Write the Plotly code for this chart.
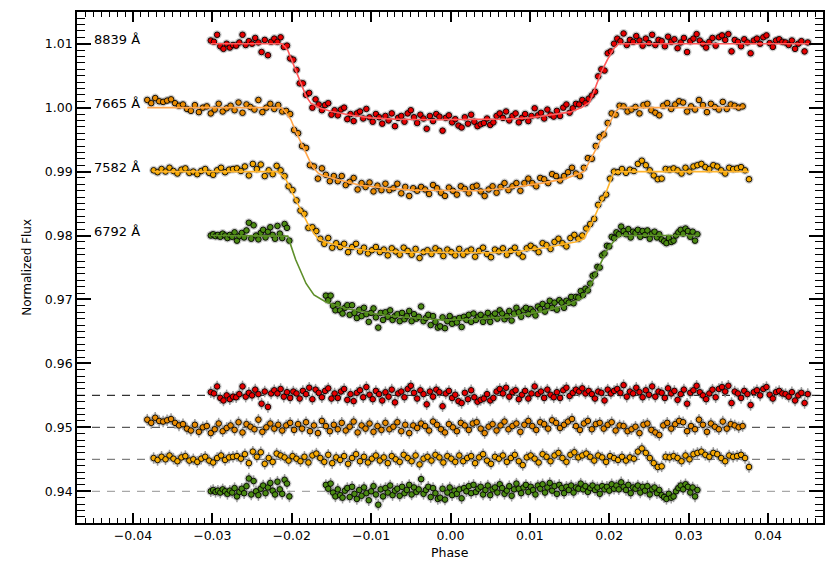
import plotly.graph_objects as go

# ---------------------------------------------------------------------------
# Spectroscopic transit light curves (normalized flux vs. orbital phase)
# plus residuals after subtracting the best-fit transit model.
# ---------------------------------------------------------------------------

# ---- 8839 A channel --------------------------------------------------------
PHASE_8839 = [
    -0.0302, -0.0298, -0.0294, -0.0290, -0.0286, -0.0282, -0.0278, -0.0274, -0.0270, -0.0266,
    -0.0262, -0.0258, -0.0254, -0.0250, -0.0246, -0.0242, -0.0238, -0.0234, -0.0230, -0.0226,
    -0.0222, -0.0218, -0.0214, -0.0210, -0.0206, -0.0202, -0.0198, -0.0194, -0.0190, -0.0186,
    -0.0182, -0.0178, -0.0174, -0.0170, -0.0166, -0.0162, -0.0158, -0.0154, -0.0150, -0.0146,
    -0.0142, -0.0138, -0.0134, -0.0130, -0.0126, -0.0122, -0.0118, -0.0114, -0.0110, -0.0106,
    -0.0102, -0.0098, -0.0094, -0.0090, -0.0086, -0.0082, -0.0078, -0.0074, -0.0070, -0.0066,
    -0.0062, -0.0058, -0.0054, -0.0050, -0.0046, -0.0042, -0.0038, -0.0034, -0.0030, -0.0026,
    -0.0022, -0.0018, -0.0014, -0.0010, -0.0006, -0.0002, 0.0002, 0.0006, 0.0010, 0.0014,
    0.0018, 0.0022, 0.0026, 0.0030, 0.0034, 0.0038, 0.0042, 0.0046, 0.0050, 0.0054,
    0.0058, 0.0062, 0.0066, 0.0070, 0.0074, 0.0078, 0.0082, 0.0086, 0.0090, 0.0094,
    0.0098, 0.0102, 0.0106, 0.0110, 0.0114, 0.0118, 0.0122, 0.0126, 0.0130, 0.0134,
    0.0138, 0.0142, 0.0146, 0.0150, 0.0154, 0.0158, 0.0162, 0.0166, 0.0170, 0.0174,
    0.0178, 0.0182, 0.0186, 0.0190, 0.0194, 0.0198, 0.0202, 0.0206, 0.0210, 0.0214,
    0.0218, 0.0222, 0.0226, 0.0230, 0.0234, 0.0238, 0.0242, 0.0246, 0.0250, 0.0254,
    0.0258, 0.0262, 0.0266, 0.0270, 0.0274, 0.0278, 0.0282, 0.0286, 0.0290, 0.0294,
    0.0298, 0.0302, 0.0306, 0.0310, 0.0314, 0.0318, 0.0322, 0.0326, 0.0330, 0.0334,
    0.0338, 0.0342, 0.0346, 0.0350, 0.0354, 0.0358, 0.0362, 0.0366, 0.0370, 0.0374,
    0.0378, 0.0382, 0.0386, 0.0390, 0.0394, 0.0398, 0.0402, 0.0406, 0.0410, 0.0414,
    0.0418, 0.0422, 0.0426, 0.0430, 0.0434, 0.0438, 0.0442, 0.0446, 0.0450,
]
FLUX_8839 = [
    1.0105, 1.0103, 1.0114, 1.0096, 1.0092, 1.0100, 1.0094, 1.0098, 1.0097, 1.0102,
    1.0114, 1.0098, 1.0104, 1.0100, 1.0109, 1.0102, 1.0087, 1.0106, 1.0082, 1.0103,
    1.0108, 1.0103, 1.0110, 1.0095, 1.0097, 1.0077, 1.0075, 1.0059, 1.0038, 1.0038,
    1.0020, 1.0023, 1.0000, 1.0013, 1.0005, 0.9996, 1.0004, 1.0007, 0.9989, 0.9996,
    0.9988, 0.9997, 1.0000, 0.9982, 0.9990, 0.9979, 0.9991, 0.9994, 0.9983, 0.9998,
    0.9985, 0.9978, 0.9990, 0.9985, 0.9975, 0.9987, 0.9980, 0.9991, 0.9971, 0.9984,
    0.9987, 0.9978, 0.9991, 0.9996, 0.9985, 0.9976, 0.9989, 0.9983, 0.9967, 0.9987,
    0.9979, 0.9990, 0.9986, 0.9964, 0.9984, 0.9988, 0.9977, 0.9982, 0.9972, 0.9969,
    0.9985, 0.9975, 0.9989, 0.9978, 0.9971, 0.9974, 0.9976, 0.9983, 0.9973, 0.9977,
    0.9987, 0.9991, 0.9984, 0.9994, 0.9980, 0.9987, 0.9991, 0.9977, 0.9984, 0.9990,
    0.9979, 0.9987, 0.9999, 0.9988, 0.9992, 0.9983, 0.9997, 0.9989, 0.9986, 0.9995,
    0.9987, 1.0000, 1.0005, 0.9992, 0.9999, 1.0006, 1.0005, 1.0012, 1.0007, 1.0014,
    1.0019, 1.0025, 1.0049, 1.0060, 1.0058, 1.0085, 1.0088, 1.0100, 1.0108, 1.0104,
    1.0116, 1.0098, 1.0106, 1.0103, 1.0112, 1.0105, 1.0097, 1.0108, 1.0101, 1.0114,
    1.0098, 1.0106, 1.0104, 1.0096, 1.0111, 1.0103, 1.0107, 1.0093, 1.0102, 1.0109,
    1.0087, 1.0104, 1.0108, 1.0115, 1.0105, 1.0100, 1.0094, 1.0103, 1.0109, 1.0097,
    1.0110, 1.0113, 1.0106, 1.0115, 1.0088, 1.0106, 1.0103, 1.0096, 1.0107, 1.0102,
    1.0085, 1.0105, 1.0108, 1.0100, 1.0110, 1.0113, 1.0101, 1.0095, 1.0105, 1.0107,
    1.0103, 1.0102, 1.0098, 1.0105, 1.0092, 1.0100, 1.0104, 1.0088, 1.0102,
]
RESID_8839_PPM = [
    500, 300, 1400, -400, -800, 0, -600, -200, -300, 200,
    1400, -200, 400, 0, 900, 200, -1300, 600, -1800, 300,
    800, 300, 1000, -200, 500, -400, 600, 300, -500, 700,
    200, 1200, -600, 900, 400, -300, 700, 1100, -500, 300,
    -400, 600, 1000, -700, 200, -900, 400, 800, -300, 1300,
    100, -600, 700, 200, -800, 500, -200, 900, -1100, 300,
    600, -300, 1000, 1500, 400, -500, 800, 200, -1400, 600,
    -200, 900, 500, -1700, 300, 700, -400, 100, -900, -1200,
    400, -600, 800, -300, -1000, -700, -500, 200, -800, -400,
    600, 1000, 300, 1200, -200, 500, 800, -600, 100, 700,
    -500, 300, 1400, 200, 600, -400, 900, 100, -300, 500,
    -400, 800, 1200, -100, 400, 900, 600, 1100, 300, 700,
    200, -500, 600, 400, -800, 900, 300, 700, 1000, 400,
    1600, -200, 600, 300, 1200, 500, -300, 800, 100, 1400,
    -200, 600, 400, -400, 1100, 300, 700, -700, 200, 900,
    -1300, 400, 800, 1500, 500, 0, -600, 300, 900, -300,
    1000, 1300, 600, 1500, -1200, 600, 300, -400, 700, 200,
    -1500, 500, 800, 0, 1000, 1300, 100, -500, 500, 700,
    300, 200, -200, 500, -800, 0, 400, -1200, 200,
]
MODEL_8839_PHASE = [
    -0.0302, -0.0212, -0.0205, -0.0197, -0.0189, -0.0182, -0.0176, -0.0165, -0.0150,
    -0.0125, -0.0100, -0.0070, -0.0030, 0.0030, 0.0070, 0.0100, 0.0125, 0.0150,
    0.0165, 0.0175, 0.0182, 0.0190, 0.0198, 0.0206, 0.0212, 0.0452,
]
MODEL_8839_FLUX = [
    1.0100, 1.0100, 1.0090, 1.0066, 1.0040, 1.0018, 1.0007, 1.0000, 0.9994,
    0.9988, 0.9984, 0.9982, 0.9981, 0.9981, 0.9982, 0.9984, 0.9988, 0.9993,
    1.0000, 1.0008, 1.0030, 1.0056, 1.0076, 1.0093, 1.0100, 1.0100,
]

# ---- 7665 A channel --------------------------------------------------------
PHASE_7665 = [
    -0.0382, -0.0377, -0.0372, -0.0367, -0.0362, -0.0357, -0.0352, -0.0347, -0.0342, -0.0337,
    -0.0332, -0.0327, -0.0322, -0.0317, -0.0312, -0.0307, -0.0302, -0.0297, -0.0292, -0.0287,
    -0.0282, -0.0277, -0.0272, -0.0267, -0.0262, -0.0257, -0.0252, -0.0247, -0.0242, -0.0237,
    -0.0232, -0.0227, -0.0222, -0.0217, -0.0212, -0.0207, -0.0202, -0.0197, -0.0192, -0.0187,
    -0.0182, -0.0177, -0.0172, -0.0167, -0.0162, -0.0157, -0.0152, -0.0147, -0.0142, -0.0137,
    -0.0132, -0.0127, -0.0122, -0.0117, -0.0112, -0.0107, -0.0102, -0.0097, -0.0092, -0.0087,
    -0.0082, -0.0077, -0.0072, -0.0067, -0.0062, -0.0057, -0.0052, -0.0047, -0.0042, -0.0037,
    -0.0032, -0.0027, -0.0022, -0.0017, -0.0012, -0.0007, -0.0002, 0.0003, 0.0008, 0.0013,
    0.0018, 0.0023, 0.0028, 0.0033, 0.0038, 0.0043, 0.0048, 0.0053, 0.0058, 0.0063,
    0.0068, 0.0073, 0.0078, 0.0083, 0.0088, 0.0093, 0.0098, 0.0103, 0.0108, 0.0113,
    0.0118, 0.0123, 0.0128, 0.0133, 0.0138, 0.0143, 0.0148, 0.0153, 0.0158, 0.0163,
    0.0168, 0.0173, 0.0178, 0.0183, 0.0188, 0.0193, 0.0198, 0.0203, 0.0208, 0.0213,
    0.0218, 0.0223, 0.0228, 0.0233, 0.0238, 0.0243, 0.0248, 0.0253, 0.0258, 0.0263,
    0.0268, 0.0273, 0.0278, 0.0283, 0.0288, 0.0293, 0.0298, 0.0303, 0.0308, 0.0313,
    0.0318, 0.0323, 0.0328, 0.0333, 0.0338, 0.0343, 0.0348, 0.0353, 0.0358, 0.0363,
    0.0368,
]
FLUX_7665 = [
    1.0012, 1.0007, 1.0015, 1.0010, 1.0009, 1.0011, 1.0013, 1.0007, 1.0003, 1.0005,
    0.9998, 0.9995, 1.0004, 0.9993, 1.0000, 1.0002, 0.9991, 0.9997, 1.0006, 0.9994,
    0.9999, 1.0003, 0.9996, 1.0008, 0.9992, 1.0005, 1.0001, 0.9997, 1.0012, 0.9993,
    1.0000, 1.0006, 0.9998, 1.0004, 0.9994, 0.9995, 0.9990, 0.9965, 0.9960, 0.9940,
    0.9937, 0.9910, 0.9908, 0.9889, 0.9905, 0.9895, 0.9885, 0.9893, 0.9885, 0.9893,
    0.9879, 0.9884, 0.9890, 0.9872, 0.9882, 0.9876, 0.9883, 0.9869, 0.9878, 0.9871,
    0.9881, 0.9871, 0.9874, 0.9881, 0.9866, 0.9876, 0.9862, 0.9874, 0.9870, 0.9876,
    0.9872, 0.9865, 0.9879, 0.9874, 0.9867, 0.9862, 0.9875, 0.9870, 0.9864, 0.9877,
    0.9873, 0.9866, 0.9876, 0.9878, 0.9869, 0.9862, 0.9872, 0.9877, 0.9867, 0.9876,
    0.9882, 0.9871, 0.9877, 0.9882, 0.9870, 0.9882, 0.9889, 0.9882, 0.9877, 0.9890,
    0.9888, 0.9882, 0.9896, 0.9893, 0.9886, 0.9893, 0.9899, 0.9906, 0.9897, 0.9893,
    0.9906, 0.9921, 0.9920, 0.9940, 0.9954, 0.9958, 0.9976, 0.9991, 0.9989, 1.0003,
    1.0002, 0.9994, 0.9997, 1.0001, 0.9991, 1.0004, 1.0006, 0.9996, 0.9992, 0.9988,
    1.0003, 1.0007, 0.9998, 1.0005, 1.0010, 1.0008, 0.9994, 1.0002, 0.9997, 1.0012,
    1.0004, 0.9993, 1.0006, 1.0001, 0.9997, 1.0009, 0.9998, 1.0005, 1.0003, 1.0000,
    1.0002,
]
RESID_7665_PPM = [
    1200, 700, 1500, 1000, 900, 1100, 1300, 700, 300, 500,
    -200, -500, 400, -700, 0, 200, -900, -300, 600, -600,
    -100, 300, -400, 800, -800, 500, 100, -300, 1200, -700,
    0, 600, -200, 400, -500, 300, 700, -400, 500, -200,
    800, -600, 300, -900, 1000, 200, -600, 400, -300, 700,
    -500, 100, 900, -800, 300, -200, 600, -700, 200, -400,
    700, -300, 100, 800, -600, 400, -900, 300, -100, 600,
    200, -500, 900, 400, -300, -800, 500, 0, -600, 700,
    300, -400, 600, 800, -200, -900, 100, 500, -500, 300,
    900, -300, 200, 600, -700, 400, 1000, 200, -400, 800,
    500, -200, 1100, 700, -100, 400, 900, 1300, 200, -400,
    600, 1000, -300, 500, 700, -200, 400, 800, -500, 300,
    200, -600, -300, 100, -900, 400, 600, -400, -800, -1200,
    300, 700, -200, 500, 1000, 800, -600, 200, -300, 1200,
    400, -700, 600, 100, -300, 900, -200, 500, 300, 0,
    200,
]
MODEL_7665_PHASE = [
    -0.0382, -0.0213, -0.0207, -0.0201, -0.0195, -0.0190, -0.0182, -0.0174, -0.0167,
    -0.0161, -0.0150, -0.0140, -0.0115, -0.0081, -0.0046, 0.0032, 0.0073, 0.0115,
    0.0145, 0.0168, 0.0176, 0.0187, 0.0197, 0.0208, 0.0213, 0.0367,
]
MODEL_7665_FLUX = [
    1.0000, 1.0000, 0.9992, 0.9981, 0.9963, 0.9949, 0.9929, 0.9908, 0.9898,
    0.9894, 0.9890, 0.9887, 0.9879, 0.9874, 0.9871, 0.9870, 0.9874, 0.9882,
    0.9889, 0.9900, 0.9918, 0.9944, 0.9970, 0.9994, 1.0000, 1.0000,
]

# ---- 7582 A channel --------------------------------------------------------
PHASE_7582 = [
    -0.0374, -0.0369, -0.0364, -0.0359, -0.0354, -0.0349, -0.0344, -0.0339, -0.0334, -0.0329,
    -0.0324, -0.0319, -0.0314, -0.0309, -0.0304, -0.0299, -0.0294, -0.0289, -0.0284, -0.0279,
    -0.0274, -0.0269, -0.0264, -0.0259, -0.0254, -0.0249, -0.0244, -0.0239, -0.0234, -0.0229,
    -0.0224, -0.0219, -0.0214, -0.0209, -0.0204, -0.0199, -0.0194, -0.0189, -0.0184, -0.0179,
    -0.0174, -0.0169, -0.0164, -0.0159, -0.0154, -0.0149, -0.0144, -0.0139, -0.0134, -0.0129,
    -0.0124, -0.0119, -0.0114, -0.0109, -0.0104, -0.0099, -0.0094, -0.0089, -0.0084, -0.0079,
    -0.0074, -0.0069, -0.0064, -0.0059, -0.0054, -0.0049, -0.0044, -0.0039, -0.0034, -0.0029,
    -0.0024, -0.0019, -0.0014, -0.0009, -0.0004, 0.0001, 0.0006, 0.0011, 0.0016, 0.0021,
    0.0026, 0.0031, 0.0036, 0.0041, 0.0046, 0.0051, 0.0056, 0.0061, 0.0066, 0.0071,
    0.0076, 0.0081, 0.0086, 0.0091, 0.0096, 0.0101, 0.0106, 0.0111, 0.0116, 0.0121,
    0.0126, 0.0131, 0.0136, 0.0141, 0.0146, 0.0151, 0.0156, 0.0161, 0.0166, 0.0171,
    0.0176, 0.0181, 0.0186, 0.0191, 0.0196, 0.0201, 0.0206, 0.0211, 0.0216, 0.0221,
    0.0226, 0.0231, 0.0236, 0.0241, 0.0246, 0.0251, 0.0256, 0.0261, 0.0266, 0.0271,
    0.0276, 0.0281, 0.0286, 0.0291, 0.0296, 0.0301, 0.0306, 0.0311, 0.0316, 0.0321,
    0.0326, 0.0331, 0.0336, 0.0341, 0.0346, 0.0351, 0.0356, 0.0361, 0.0366, 0.0371,
    0.0376,
]
FLUX_7582 = [
    0.9902, 0.9899, 0.9904, 0.9900, 0.9906, 0.9901, 0.9897, 0.9903, 0.9905, 0.9898,
    0.9900, 0.9896, 0.9901, 0.9904, 0.9898, 0.9895, 0.9902, 0.9906, 0.9899, 0.9903,
    0.9904, 0.9905, 0.9901, 0.9908, 0.9894, 0.9912, 0.9904, 0.9911, 0.9893, 0.9902,
    0.9896, 0.9909, 0.9902, 0.9893, 0.9877, 0.9871, 0.9855, 0.9839, 0.9834, 0.9812,
    0.9813, 0.9807, 0.9795, 0.9787, 0.9796, 0.9781, 0.9788, 0.9782, 0.9787, 0.9774,
    0.9782, 0.9787, 0.9775, 0.9781, 0.9772, 0.9777, 0.9782, 0.9774, 0.9778, 0.9769,
    0.9780, 0.9775, 0.9770, 0.9781, 0.9776, 0.9770, 0.9779, 0.9765, 0.9774, 0.9777,
    0.9771, 0.9780, 0.9776, 0.9768, 0.9778, 0.9774, 0.9769, 0.9779, 0.9770, 0.9775,
    0.9778, 0.9767, 0.9776, 0.9781, 0.9771, 0.9766, 0.9778, 0.9775, 0.9780, 0.9770,
    0.9776, 0.9781, 0.9772, 0.9767, 0.9780, 0.9784, 0.9780, 0.9774, 0.9788, 0.9785,
    0.9779, 0.9790, 0.9795, 0.9788, 0.9783, 0.9796, 0.9801, 0.9795, 0.9800, 0.9811,
    0.9818, 0.9826, 0.9848, 0.9858, 0.9864, 0.9889, 0.9900, 0.9899, 0.9904, 0.9898,
    0.9903, 0.9901, 0.9912, 0.9917, 0.9910, 0.9902, 0.9894, 0.9888, 0.9889, 0.9904,
    0.9903, 0.9905, 0.9902, 0.9897, 0.9906, 0.9900, 0.9908, 0.9910, 0.9912, 0.9907,
    0.9904, 0.9910, 0.9908, 0.9902, 0.9897, 0.9906, 0.9904, 0.9905, 0.9907, 0.9902,
    0.9888,
]
RESID_7582_PPM = [
    200, -100, 400, 0, 600, 100, -300, 300, 500, -200,
    0, -400, 100, 400, -200, -500, 200, 600, -100, 300,
    400, 500, 100, 800, -600, 1200, 400, 1100, -700, 200,
    -400, 900, 600, 300, -200, 500, 100, -300, 400, -500,
    600, 900, 200, -400, 700, -600, 300, -100, 500, -700,
    200, 800, -300, 400, -500, 100, 600, -200, 300, -600,
    500, 0, -400, 700, 200, -300, 600, -800, 100, 400,
    -200, 700, 300, -500, 500, 100, -400, 600, -300, 200,
    500, -600, 300, 800, -200, -700, 400, 100, 600, -400,
    200, 700, -300, -900, 300, 600, 100, -500, 800, 400,
    -300, 600, 1000, 200, -400, 700, 1100, 300, 600, 900,
    400, -200, 600, 300, -400, 500, 200, -100, 400, -200,
    300, 100, 1200, 1700, 1000, 200, -600, -1200, -1100, 400,
    300, 500, 200, -300, 600, 0, 800, 1000, 1200, 700,
    400, 1000, 800, 200, -300, 600, 400, 500, 700, 200,
    -1200,
]
MODEL_7582_PHASE = [
    -0.0374, -0.0218, -0.0212, -0.0207, -0.0197, -0.0188, -0.0180, -0.0172, -0.0166,
    -0.0157, -0.0136, -0.0107, -0.0060, 0.0050, 0.0086, 0.0124, 0.0157, 0.0168,
    0.0176, 0.0187, 0.0197, 0.0205, 0.0209, 0.0376,
]
MODEL_7582_FLUX = [
    0.9900, 0.9900, 0.9894, 0.9887, 0.9861, 0.9840, 0.9819, 0.9803, 0.9794,
    0.9790, 0.9782, 0.9777, 0.9774, 0.9773, 0.9775, 0.9782, 0.9790, 0.9795,
    0.9814, 0.9845, 0.9871, 0.9897, 0.9900, 0.9900,
]

# ---- 6792 A channel (no coverage during ingress) -----------------------------
PHASE_6792 = [
    -0.0302, -0.0299, -0.0296, -0.0293, -0.0290, -0.0287, -0.0284, -0.0281, -0.0278, -0.0275,
    -0.0272, -0.0269, -0.0266, -0.0263, -0.0260, -0.0257, -0.0254, -0.0251, -0.0248, -0.0245,
    -0.0242, -0.0239, -0.0236, -0.0233, -0.0230, -0.0227, -0.0224, -0.0221, -0.0218, -0.0215,
    -0.0212, -0.0209, -0.0206, -0.0203,
    -0.0157, -0.0154, -0.0151, -0.0148, -0.0145, -0.0142, -0.0139, -0.0136, -0.0133, -0.0130,
    -0.0127, -0.0124, -0.0121, -0.0118, -0.0115, -0.0112, -0.0109, -0.0106, -0.0103, -0.0100,
    -0.0097, -0.0094, -0.0091, -0.0088, -0.0085, -0.0082, -0.0079, -0.0076, -0.0073, -0.0070,
    -0.0067, -0.0064, -0.0061, -0.0058, -0.0055, -0.0052, -0.0049, -0.0046, -0.0043, -0.0040,
    -0.0037, -0.0034, -0.0031, -0.0028, -0.0025, -0.0022, -0.0019, -0.0016, -0.0013, -0.0010,
    -0.0007, -0.0004, -0.0001, 0.0002, 0.0005, 0.0008, 0.0011, 0.0014, 0.0017, 0.0020,
    0.0023, 0.0026, 0.0029, 0.0032, 0.0035, 0.0038, 0.0041, 0.0044, 0.0047, 0.0050,
    0.0053, 0.0056, 0.0059, 0.0062, 0.0065, 0.0068, 0.0071, 0.0074, 0.0077, 0.0080,
    0.0083, 0.0086, 0.0089, 0.0092, 0.0095, 0.0098, 0.0101, 0.0104, 0.0107, 0.0110,
    0.0113, 0.0116, 0.0119, 0.0122, 0.0125, 0.0128, 0.0131, 0.0134, 0.0137, 0.0140,
    0.0143, 0.0146, 0.0149, 0.0152, 0.0155, 0.0158, 0.0161, 0.0164, 0.0167, 0.0170,
    0.0173, 0.0176, 0.0179, 0.0182, 0.0185, 0.0188, 0.0191, 0.0194, 0.0197, 0.0200,
    0.0203, 0.0206, 0.0209, 0.0212, 0.0215, 0.0218, 0.0221, 0.0224, 0.0227, 0.0230,
    0.0233, 0.0236, 0.0239, 0.0242, 0.0245, 0.0248, 0.0251, 0.0254, 0.0257, 0.0260,
    0.0263, 0.0266, 0.0269, 0.0272, 0.0275, 0.0278, 0.0281, 0.0284, 0.0287, 0.0290,
    0.0293, 0.0296, 0.0299, 0.0302, 0.0305, 0.0308, 0.0311,
]
FLUX_6792 = [
    0.9800, 0.9802, 0.9799, 0.9801, 0.9798, 0.9803, 0.9800, 0.9796, 0.9801, 0.9798,
    0.9805, 0.9792, 0.9799, 0.9804, 0.9797, 0.9808, 0.9820, 0.9795, 0.9816, 0.9800,
    0.9794, 0.9804, 0.9809, 0.9797, 0.9806, 0.9813, 0.9801, 0.9795, 0.9815, 0.9803,
    0.9796, 0.9818, 0.9812, 0.9792,
    0.9706, 0.9699, 0.9706, 0.9690, 0.9683, 0.9693, 0.9683, 0.9678, 0.9687, 0.9691,
    0.9676, 0.9691, 0.9679, 0.9671, 0.9684, 0.9674, 0.9687, 0.9677, 0.9665, 0.9679,
    0.9686, 0.9672, 0.9656, 0.9679, 0.9668, 0.9680, 0.9673, 0.9683, 0.9668, 0.9674,
    0.9677, 0.9666, 0.9679, 0.9669, 0.9674, 0.9682, 0.9666, 0.9677, 0.9670, 0.9673,
    0.9689, 0.9666, 0.9671, 0.9676, 0.9660, 0.9674, 0.9665, 0.9656, 0.9658, 0.9672,
    0.9655, 0.9666, 0.9674, 0.9662, 0.9669, 0.9664, 0.9671, 0.9657, 0.9673, 0.9668,
    0.9676, 0.9665, 0.9678, 0.9668, 0.9673, 0.9676, 0.9665, 0.9672, 0.9679, 0.9665,
    0.9674, 0.9678, 0.9670, 0.9683, 0.9678, 0.9669, 0.9674, 0.9682, 0.9667, 0.9678,
    0.9687, 0.9680, 0.9673, 0.9683, 0.9687, 0.9677, 0.9685, 0.9681, 0.9675, 0.9689,
    0.9685, 0.9693, 0.9681, 0.9690, 0.9698, 0.9687, 0.9695, 0.9684, 0.9699, 0.9695,
    0.9687, 0.9698, 0.9695, 0.9704, 0.9694, 0.9704, 0.9703, 0.9713, 0.9707, 0.9717,
    0.9714, 0.9725, 0.9737, 0.9739, 0.9751, 0.9750, 0.9769, 0.9772, 0.9784, 0.9783,
    0.9798, 0.9796, 0.9805, 0.9802, 0.9814, 0.9807, 0.9802, 0.9810, 0.9797, 0.9806,
    0.9804, 0.9809, 0.9798, 0.9807, 0.9801, 0.9808, 0.9795, 0.9803, 0.9806, 0.9797,
    0.9802, 0.9794, 0.9791, 0.9788, 0.9796, 0.9790, 0.9792, 0.9800, 0.9805, 0.9809,
    0.9803, 0.9811, 0.9807, 0.9798, 0.9806, 0.9792, 0.9802,
]
RESID_6792_PPM = [
    0, 200, -100, 100, -200, 300, 0, -400, 100, -200,
    500, -800, -100, 400, -300, 800, 2000, -500, 1600, 0,
    -600, 400, 900, -300, 600, 1300, 100, -500, 1500, 300,
    -400, 1800, 1200, -800,
    1000, 400, 1200, -200, -800, 300, -600, -1000, 100, 500,
    -900, 700, -400, -1200, 200, -700, 600, -300, -1400, 0,
    800, -500, -2100, 300, -800, 500, -200, 900, -600, 100,
    400, -700, 700, -300, 200, 1000, -500, 600, -100, 300,
    1900, -400, 200, 700, -900, 500, -300, -1200, -1000, 400,
    -1300, -200, 600, -600, 100, -400, 300, -1100, 500, 0,
    800, -300, 1000, -100, 400, 700, -500, 200, 900, -600,
    300, 600, -200, 1100, 500, -400, 100, 800, -700, 300,
    1200, 400, -300, 600, 1000, -100, 700, 200, -500, 900,
    400, 1100, -200, 600, 1300, 100, 800, -400, 1000, 500,
    -300, 700, 200, 900, -200, 600, 400, 1200, 300, 800,
    -100, 500, 900, 200, 600, -400, 800, 300, 700, 100,
    1100, 400, 900, 300, 1400, 700, 200, 1000, -300, 600,
    400, 900, -200, 700, 100, 800, -500, 300, 600, -300,
    200, -600, -900, -1200, -400, -1000, -800, 0, 500, 900,
    300, 1100, 700, -200, 600, -800, 200,
]
MODEL_6792_PHASE = [
    -0.0302, -0.0205, -0.0195, -0.0182, -0.0172, -0.0157, -0.0132, -0.0098, -0.0065,
    -0.0010, 0.0032, 0.0073, 0.0115, 0.0145, 0.0166, 0.0176, 0.0187, 0.0197,
    0.0208, 0.0214, 0.0311,
]
MODEL_6792_FLUX = [
    0.9800, 0.9799, 0.9762, 0.9725, 0.9707, 0.9696, 0.9686, 0.9678, 0.9673,
    0.9668, 0.9669, 0.9673, 0.9681, 0.9691, 0.9702, 0.9720, 0.9751, 0.9777,
    0.9795, 0.9800, 0.9800,
]

# one-sigma photometric uncertainty on each residual point
RESID_ERR_PPM = 900

# ---------------------------------------------------------------------------
FONT = "DejaVu Sans"

# label, phase, flux, residuals, model, curve baseline, residual offset, colours
CHANNELS = [
    ("8839 \u00c5", PHASE_8839, FLUX_8839, RESID_8839_PPM,
     MODEL_8839_PHASE, MODEL_8839_FLUX, 1.010, 0.955, "#e60000", "#ff5a5a"),
    ("7665 \u00c5", PHASE_7665, FLUX_7665, RESID_7665_PPM,
     MODEL_7665_PHASE, MODEL_7665_FLUX, 1.000, 0.950, "#e88a00", "#ffa54a"),
    ("7582 \u00c5", PHASE_7582, FLUX_7582, RESID_7582_PPM,
     MODEL_7582_PHASE, MODEL_7582_FLUX, 0.990, 0.945, "#f5a800", "#ffb52e"),
    ("6792 \u00c5", PHASE_6792, FLUX_6792, RESID_6792_PPM,
     MODEL_6792_PHASE, MODEL_6792_FLUX, 0.980, 0.940, "#4b8a12", "#5e8f2a"),
]
ZERO_LINE_COLORS = ["#333333", "#5a5a5a", "#808080", "#a8a8a8"]

HALO = dict(size=9, color="rgba(80,80,80,0.28)", line=dict(width=0))

fig = go.Figure()

for label, ph, fx, res, mph, mfx, base, off, fill, linecol in CHANNELS:
    res_y = [off + r * 1e-6 for r in res]
    marker = dict(size=5.6, color=fill, line=dict(color="black", width=0.9))

    # soft halo under the symbols
    fig.add_trace(go.Scatter(x=ph, y=fx, mode="markers", marker=HALO,
                             hoverinfo="skip", showlegend=False))
    fig.add_trace(go.Scatter(x=ph, y=res_y, mode="markers", marker=HALO,
                             hoverinfo="skip", showlegend=False))

    # residuals with error bars
    fig.add_trace(go.Scatter(
        x=ph, y=res_y, mode="markers", marker=marker, showlegend=False,
        error_y=dict(type="constant", value=RESID_ERR_PPM * 1e-6,
                     color="#9a9a9a", thickness=1.5, width=0),
    ))
    # light curve
    fig.add_trace(go.Scatter(x=ph, y=fx, mode="markers", marker=marker,
                             showlegend=False, name=label))
    # best-fit transit model
    fig.add_trace(go.Scatter(x=mph, y=mfx, mode="lines",
                             line=dict(color=linecol, width=1.6),
                             hoverinfo="skip", showlegend=False))

# dashed zero levels of the residual sequences
shapes = []
for ch, col in zip(CHANNELS, ZERO_LINE_COLORS):
    off = ch[7]
    shapes.append(dict(type="line", xref="paper", x0=0, x1=1, yref="y",
                       y0=off, y1=off, layer="below",
                       line=dict(color=col, width=1.2, dash="8px,7px")))

annotations = []
for ch in CHANNELS:
    annotations.append(dict(x=-0.0451, y=ch[6], xref="x", yref="y", text=ch[0],
                            showarrow=False, xanchor="left", yanchor="middle",
                            yshift=4, font=dict(family=FONT, size=13, color="black")))
annotations.append(dict(x=0.5005, y=-0.057, xref="paper", yref="paper", text="Phase",
                        showarrow=False, xanchor="center", yanchor="middle",
                        font=dict(family=FONT, size=12.5, color="black")))
annotations.append(dict(x=-0.068, y=0.5, xref="paper", yref="paper",
                        text="Normalized Flux", textangle=-90, showarrow=False,
                        xanchor="center", yanchor="middle",
                        font=dict(family=FONT, size=12, color="black")))

axis_common = dict(
    showgrid=False, zeroline=False, showline=True, linecolor="black", linewidth=1.8,
    mirror="allticks", ticks="inside", tickcolor="black", tickwidth=1.7,
    tickformat=".2f", tickfont=dict(family=FONT, size=12.5, color="black"),
    layer="above traces",
)

fig.update_layout(
    width=833, height=563,
    margin=dict(l=77, r=8, t=12, b=40),
    paper_bgcolor="white", plot_bgcolor="white",
    showlegend=False,
    xaxis=dict(axis_common, range=[-0.04705, 0.04692], tickmode="linear",
               tick0=0, dtick=0.01, ticklen=10,
               minor=dict(ticks="inside", ticklen=5, dtick=0.001, tick0=0,
                          tickcolor="black", tickwidth=1.4, showgrid=False)),
    yaxis=dict(axis_common, range=[0.93504, 1.01496], tickmode="linear",
               tick0=0, dtick=0.01, ticklen=14,
               minor=dict(ticks="inside", ticklen=8, dtick=0.001, tick0=0,
                          tickcolor="black", tickwidth=1.4, showgrid=False)),
    shapes=shapes,
    annotations=annotations,
)

fig.write_html("out.html")
